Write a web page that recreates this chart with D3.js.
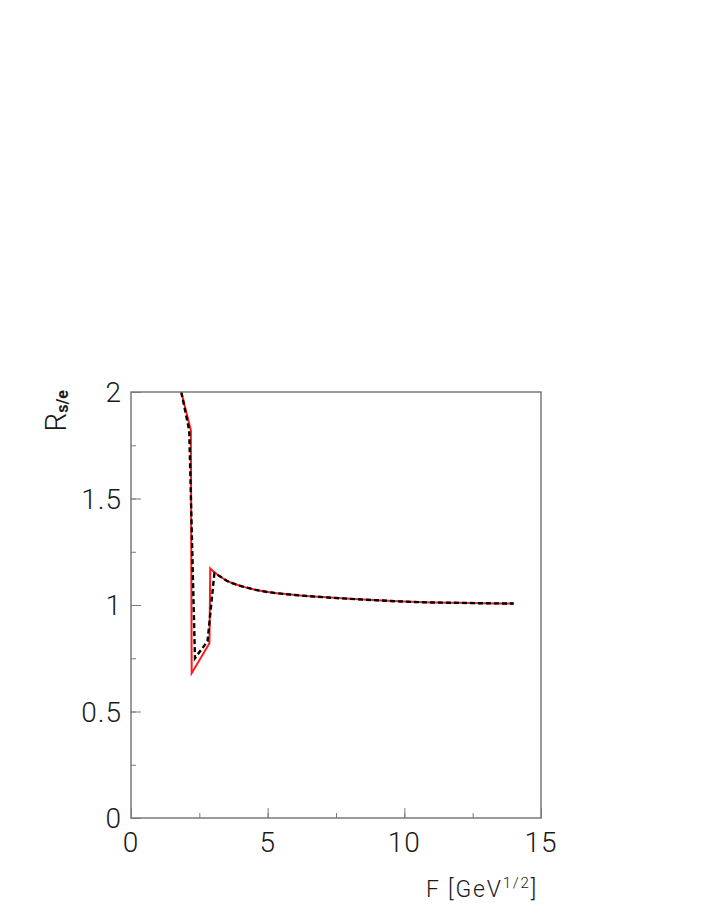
<!DOCTYPE html>
<html>
<head>
<meta charset="utf-8">
<script src="https://cdn.jsdelivr.net/npm/d3@7"></script>
<style>
  body { margin: 0; background: #fff; }
  text { font-family: Roboto, "Liberation Sans", Arial, sans-serif; font-weight: 300; }
</style>
</head>
<body>
<svg id="svg" width="708" height="917"></svg>
<script>
// values; the first five points are the dip, the rest the tail
const redX = [1.84, 2.19, 2.22, 2.87, 2.90, 3.0, 3.25, 3.5, 4.0, 4.5, 5.0, 6.0, 7.0, 8.0, 9.0, 10.0, 11.0, 12.0, 13.0, 14.0];
const redY = [2.0, 1.82, 0.68, 0.82, 1.172, 1.160, 1.135, 1.114, 1.090, 1.073, 1.061, 1.047, 1.037, 1.029, 1.022, 1.016, 1.012, 1.010, 1.008, 1.007];

const blackX = [1.84, 2.13, 2.34, 2.80, 3.05, 3.25, 3.5, 4.0, 4.5, 5.0, 6.0, 7.0, 8.0, 9.0, 10.0, 11.0, 12.0, 13.0, 14.0];
const blackY = [2.0, 1.82, 0.75, 0.83, 1.148, 1.135, 1.114, 1.090, 1.073, 1.061, 1.047, 1.037, 1.029, 1.022, 1.016, 1.012, 1.010, 1.008, 1.007];

const xTicks = [0, 5, 10, 15];
const yTicks = [0, 0.5, 1, 1.5, 2];

const margin = {left: 131, right: 708 - 541, top: 392, bottom: 917 - 818};
const width = 708 - margin.left - margin.right;
const height = 917 - margin.top - margin.bottom;

const svg = d3.select("#svg");
const g = svg.append("g").attr("transform", `translate(${margin.left},${margin.top})`);

const x = d3.scaleLinear().domain([0, 15]).range([0, width]);
const y = d3.scaleLinear().domain([0, 2]).range([height, 0]);

const axisColor = "#7a7a7a";
const textColor = "#1a1a1a";

// minor + major ticks, pointing inward
const xMinor = d3.range(0, 15.01, 2.5);
const yMinor = d3.range(0, 2.01, 0.25);

function ticks(axis, size, values, shift) {
  const a = g.append("g");
  if (shift) a.attr("transform", `translate(0,${height})`);
  a.call(axis.tickValues(values).tickSize(size).tickFormat(""))
    .call(s => s.select(".domain").remove())
    .selectAll("line").attr("stroke", axisColor);
}
ticks(d3.axisTop(x), 5, xMinor, true);
ticks(d3.axisTop(x), 10, xTicks, true);
ticks(d3.axisRight(y), 5, yMinor, false);
ticks(d3.axisRight(y), 10, yTicks, false);

// tick labels
g.selectAll(".xlab")
  .data(xTicks)
  .join("text")
  .attr("x", d => x(d))
  .attr("y", height + 34)
  .attr("text-anchor", "middle")
  .attr("font-size", 28)
  .attr("letter-spacing", 1)
  .attr("fill", textColor)
  .text(d => d);

g.selectAll(".ylab")
  .data(yTicks)
  .join("text")
  .attr("x", -9)
  .attr("y", d => y(d) + 10)
  .attr("text-anchor", "end")
  .attr("font-size", 28)
  .attr("letter-spacing", 1)
  .attr("fill", textColor)
  .text(d => d);

// curves: straight segments through the dip, smooth tail after the peak
const clip = g.append("clipPath").attr("id", "clip")
  .append("rect").attr("width", width).attr("height", height);

function drawSeries(xs, ys, peak, style) {
  const pts = xs.map((v, i) => [v, ys[i]]);
  const lin = d3.line().x(d => x(d[0])).y(d => y(d[1]));
  const smooth = d3.line().x(d => x(d[0])).y(d => y(d[1])).curve(d3.curveMonotoneX);
  const d = lin(pts.slice(0, peak + 1)) + smooth(pts.slice(peak)).replace(/^M/, "L");
  const p = g.append("path")
    .attr("clip-path", "url(#clip)")
    .attr("d", d)
    .attr("fill", "none");
  style(p);
}

drawSeries(redX, redY, 4, p => p.attr("stroke", "#ff1a1a").attr("stroke-width", 2));
drawSeries(blackX, blackY, 4, p => p.attr("stroke", "#000").attr("stroke-width", 2.4).attr("stroke-dasharray", "5,3"));

// frame
g.append("rect")
  .attr("width", width)
  .attr("height", height)
  .attr("fill", "none")
  .attr("stroke", axisColor)
  .attr("stroke-width", 1.5);

// axis titles
const xt = svg.append("text")
  .attr("x", 538)
  .attr("y", 897)
  .attr("text-anchor", "end")
  .attr("font-size", 23)
  .attr("letter-spacing", 1.8)
  .attr("fill", textColor);
xt.append("tspan").text("F [GeV");
xt.append("tspan").attr("dy", -9).attr("font-size", 15).text("1/2");
xt.append("tspan").attr("dy", 9).text("]");

const yt = svg.append("text")
  .attr("transform", "translate(66,390) rotate(-90)")
  .attr("text-anchor", "end")
  .attr("font-size", 30)
  .attr("fill", textColor);
yt.append("tspan").text("R");
yt.append("tspan").attr("dy", 2).attr("font-size", 16).attr("font-weight", "bold").text("s/e");
</script>
</body>
</html>
